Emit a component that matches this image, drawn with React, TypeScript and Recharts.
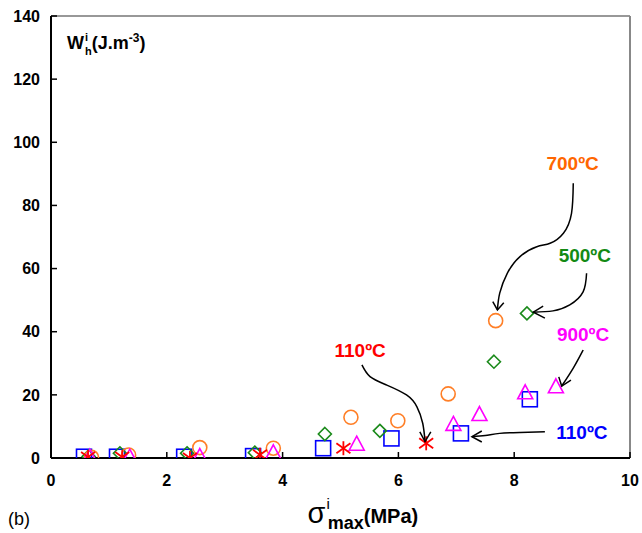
import React from "react";
import { ScatterChart, Scatter, XAxis, YAxis, ReferenceLine, ReferenceDot, Label } from "recharts";

const FONT = "'Liberation Sans', Arial, Helvetica, sans-serif";

const xTicks = [0, 2, 4, 6, 8, 10];
const yTicks = [0, 20, 40, 60, 80, 100, 120, 140];

// measured points, [sigma_max, W_h]
const circles700 = [[0.70, 0.2], [1.34, 0.95], [2.57, 3.3], [3.84, 3.1], [5.18, 12.9], [5.99, 11.8], [6.86, 20.3], [7.68, 43.5]];
const diamonds500 = [[0.65, 0.5], [1.19, 1.5], [2.35, 1.5], [3.52, 1.7], [4.73, 7.6], [5.68, 8.6], [7.65, 30.5], [8.22, 45.8]];
const squares110 = [[0.57, 0.4], [1.14, 0.4], [2.30, 0.4], [3.49, 0.6], [4.70, 3.1], [5.88, 6.2], [7.08, 7.8], [8.27, 18.6]];
const triangles900 = [[0.67, 0.1], [1.36, 0.1], [2.57, 0.3], [3.84, 1.5], [5.28, 4.2], [6.95, 10.5], [7.40, 13.6], [8.19, 20.5], [8.72, 22.4]];
const stars110 = [[0.64, 0.3], [1.23, 0.3], [2.40, 0.0], [3.61, 1.0], [5.05, 3.1], [6.48, 4.65]];

// annotation arrows (data coordinates)
const arrow700 = [[9.02, 87.0], [8.99, 77.5], [8.85, 71.2], [8.62, 68.0], [8.39, 66.9], [8.10, 63.8], [7.88, 58.5], [7.75, 52.2], [7.71, 46.9]];
const head700 = [[7.63, 49.5], [7.71, 46.9], [7.82, 49.2]];
const arrow500 = [[9.25, 58.5], [9.19, 52.6], [8.96, 48.5], [8.67, 46.6], [8.33, 46.2]];
const head500 = [[8.50, 48.1], [8.33, 46.2], [8.53, 44.3]];
const arrow900 = [[9.19, 34.2], [9.02, 28.5], [8.82, 22.8]];
const head900 = [[8.77, 25.7], [8.82, 22.8], [8.98, 24.7]];
const arrowRed = [[5.37, 29.5], [5.51, 25.8], [5.80, 23.1], [6.14, 19.96], [6.32, 16.2], [6.42, 11.0], [6.46, 5.2]];
const headRed = [[6.37, 8.3], [6.46, 5.2], [6.56, 8.3]];
const arrowBlue = [[8.53, 8.3], [8.10, 8.1], [7.75, 7.8], [7.50, 7.1], [7.27, 6.75]];
const headBlue = [[7.44, 8.55], [7.27, 6.75], [7.44, 5.07]];

const labels = [
  { x: 9.01, y: 93.3, text: "700ºC", key: "o" },
  { x: 9.22, y: 64.0, text: "500ºC", key: "g" },
  { x: 9.19, y: 39.2, text: "900ºC", key: "m" },
  { x: 5.34, y: 34.0, text: "110ºC", key: "r" },
  { x: 9.17, y: 8.1, text: "110ºC", key: "b" },
];

const markerColor: Record<string, string> = { o: "#ff7f27", g: "#1a8a1a", b: "#0000ff", m: "#ff00ff", r: "#ff0000" };
const labelColor: Record<string, string> = { o: "#ff6600", g: "#138a13", b: "#0000ff", m: "#ff00ff", r: "#ff0000" };

const pts = (arr: number[][]) => arr.map(([x, y]) => ({ x, y }));

const CircleShape = (p: any) => (
  <circle cx={p.cx} cy={p.cy} r={7} fill="none" stroke={markerColor.o} strokeWidth={1.6} />
);
const DiamondShape = (p: any) => (
  <polygon
    points={`${p.cx},${p.cy - 6.5} ${p.cx + 6.5},${p.cy} ${p.cx},${p.cy + 6.5} ${p.cx - 6.5},${p.cy}`}
    fill="none" stroke={markerColor.g} strokeWidth={1.6}
  />
);
const SquareShape = (p: any) => (
  <rect x={p.cx - 7.5} y={p.cy - 7.5} width={15} height={15} fill="none" stroke={markerColor.b} strokeWidth={1.6} />
);
const TriangleShape = (p: any) => (
  <polygon
    points={`${p.cx},${p.cy - 8.5} ${p.cx + 7.5},${p.cy + 5.5} ${p.cx - 7.5},${p.cy + 5.5}`}
    fill="none" stroke={markerColor.m} strokeWidth={1.6}
  />
);
const StarShape = (p: any) => (
  <g stroke={markerColor.r} strokeWidth={1.8}>
    <line x1={p.cx} y1={p.cy - 7} x2={p.cx} y2={p.cy + 7} />
    <line x1={p.cx - 7} y1={p.cy - 5} x2={p.cx + 7} y2={p.cy + 5} />
    <line x1={p.cx - 7} y1={p.cy + 5} x2={p.cx + 7} y2={p.cy - 5} />
  </g>
);
const NoShape = () => <g />;

const XTitle = (props: any) => {
  const vb = props.viewBox || { x: 51, width: 579 };
  const x0 = vb.x + vb.width * 0.443;
  return (
    <g fontFamily={FONT} fill="#000">
      <text x={x0} y={523}>
        <tspan fontSize={29}>σ</tspan>
        <tspan fontSize={15} dx={1} dy={-14}>i</tspan>
        <tspan fontSize={18} fontWeight="bold" dx={-2} dy={20}>max</tspan>
        <tspan fontSize={20} fontWeight="bold" dy={-6}>(MPa)</tspan>
      </text>
      <text x={8} y={525} fontSize={18}>(b)</text>
    </g>
  );
};

const YTitle = (p: any) => (
  <text x={p.cx} y={p.cy} fontFamily={FONT} fontWeight="bold" fontSize={18} fill="#000">
    <tspan>W</tspan>
    <tspan fontSize={11} dx={1} dy={-8}>i</tspan>
    <tspan fontSize={11} dx={-3} dy={14}>h</tspan>
    <tspan dy={-6}>(J.m</tspan>
    <tspan fontSize={12} dy={-7}>-3</tspan>
    <tspan dy={7}>)</tspan>
  </text>
);

const makeLabel = (text: string, color: string) => (p: any) => (
  <text
    x={p.cx} y={p.cy} textAnchor="middle" dominantBaseline="central"
    fontFamily={FONT} fontWeight="bold" fontSize={19} fill={color}
  >
    {text}
  </text>
);

const arrowLine = { stroke: "#000", strokeWidth: 1.5 };

export default function App() {
  return (
    <div style={{ position: "absolute", left: 0, top: 0, background: "#fff" }}>
      <ScatterChart width={642} height={533} margin={{ top: 16, right: 12, bottom: 45, left: 10 }}>
        <XAxis
          type="number" dataKey="x" domain={[0, 10]} ticks={xTicks} allowDataOverflow
          height={30} tickSize={-6} tickMargin={23}
          axisLine={{ stroke: "#000", strokeWidth: 2 }}
          tickLine={{ stroke: "#000", strokeWidth: 1.5 }}
          tick={{ fill: "#000", fontSize: 16, fontWeight: "bold", fontFamily: FONT }}
        >
          <Label content={XTitle} />
        </XAxis>
        <YAxis
          type="number" dataKey="y" domain={[0, 140]} ticks={yTicks} allowDataOverflow
          width={41} tickSize={-6} tickMargin={17}
          axisLine={{ stroke: "#000", strokeWidth: 2 }}
          tickLine={{ stroke: "#000", strokeWidth: 1.5 }}
          tick={{ fill: "#000", fontSize: 16, fontWeight: "bold", fontFamily: FONT }}
        />
        <ReferenceLine y={140} stroke="#333" strokeWidth={1.2} />
        <ReferenceLine x={10} stroke="#888" strokeWidth={2} />

        <Scatter data={pts(squares110)} shape={SquareShape} isAnimationActive={false} />
        <Scatter data={pts(diamonds500)} shape={DiamondShape} isAnimationActive={false} />
        <Scatter data={pts(circles700)} shape={CircleShape} isAnimationActive={false} />
        <Scatter data={pts(triangles900)} shape={TriangleShape} isAnimationActive={false} />
        <Scatter data={pts(stars110)} shape={StarShape} isAnimationActive={false} />

        {[arrow700, arrow500, arrow900, arrowRed, arrowBlue].map((a, i) => (
          <Scatter key={"a" + i} data={pts(a)} fill="#000" line={arrowLine} lineJointType="natural" shape={NoShape} isAnimationActive={false} />
        ))}
        {[head700, head500, head900, headRed, headBlue].map((a, i) => (
          <Scatter key={"h" + i} data={pts(a)} fill="#000" line={arrowLine} lineJointType="linear" shape={NoShape} isAnimationActive={false} />
        ))}

        {labels.map((l, i) => (
          <ReferenceDot key={"l" + i} x={l.x} y={l.y} r={0} shape={makeLabel(l.text, labelColor[l.key])} />
        ))}
        <ReferenceDot x={0.276} y={129.6} r={0} shape={YTitle} />
      </ScatterChart>
    </div>
  );
}
